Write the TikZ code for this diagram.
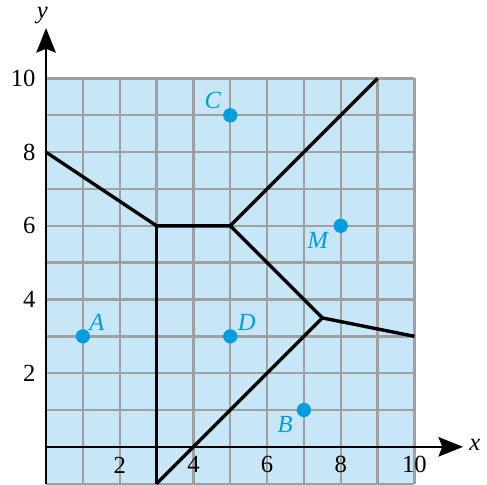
\documentclass[tikz,border=0pt]{standalone}
\usepackage{fontspec}
\setmainfont{Liberation Serif}
\usetikzlibrary{arrows.meta}
\definecolor{gridfill}{RGB}{199,230,248}
\definecolor{gridedge}{RGB}{95,190,230}
\definecolor{gridgray}{RGB}{160,160,160}
\definecolor{siteblue}{RGB}{0,157,222}

\begin{document}
\begin{tikzpicture}[font=\fontsize{19}{22}\selectfont,
		site/.style={circle, fill=siteblue, inner sep=0pt, minimum size=11pt},
		sitelabel/.style={text=siteblue, font=\fontsize{19}{22}\selectfont\itshape},
		axis/.style={line width=1.7pt, -{Stealth[length=19pt, width=15pt, inset=3pt]}},
		edge/.style={line width=2.6pt}]
		\useasboundingbox (-1.25,-1.02) rectangle (11.97,12.13);
		
		% Shaded region with the grid
		\filldraw[fill=gridfill, draw=gridedge, line width=0.9pt] (0,-1) rectangle (10,10);
		\draw[gridgray, line width=1.8pt] (0,-1) grid (10,10);
		
		% Axes
		\coordinate (ybot) at (0,-1);
		\coordinate (ytop) at (0,11.37);
		\coordinate (xleft) at (0,0);
		\coordinate (xright) at (11.32,0);
		\draw[axis] (ybot) -- (ytop);
		\draw[axis] (xleft) -- (xright);
		\node (ylab) at (-0.1,11.72) {\textit{y}};
		\node (xlab) at (11.64,0.05) {\textit{x}};
		
		% Tick labels
		\foreach \v in {2,4,...,10} {
			\node (xt\v) at (\v,-0.49) {\v};
			\node[anchor=east, inner sep=0pt] (yt\v) at (-0.28,\v) {\v};
		}
		
		% Vertices of the cells
		\coordinate (v1) at (0,8);
		\coordinate (v2) at (3,6);
		\coordinate (v3) at (5,6);
		\coordinate (v4) at (9,10);
		\coordinate (v5) at (7.5,3.5);
		\coordinate (v6) at (10,3);
		\coordinate (v7) at (3,-1);
		
		% Cell boundaries
		\draw[edge] (v1) -- (v2) -- (v3) -- (v4);
		\draw[edge] (v3) -- (v5) -- (v6);
		\draw[edge] (v5) -- (v7);
		\draw[edge] (v2) -- (v7);
		
		% Sites
		\node[site] (A) at (1,3) {};
		\node[site] (B) at (7,1) {};
		\node[site] (C) at (5,9) {};
		\node[site] (D) at (5,3) {};
		\node[site] (M) at (8,6) {};
		\node[sitelabel] (Alab) at (1.38,3.37) {A};
		\node[sitelabel] (Blab) at (6.49,0.6) {B};
		\node[sitelabel] (Clab) at (4.53,9.39) {C};
		\node[sitelabel] (Dlab) at (5.45,3.37) {D};
		\node[sitelabel] (Mlab) at (7.38,5.59) {M};
		
	\end{tikzpicture}
\end{document}
